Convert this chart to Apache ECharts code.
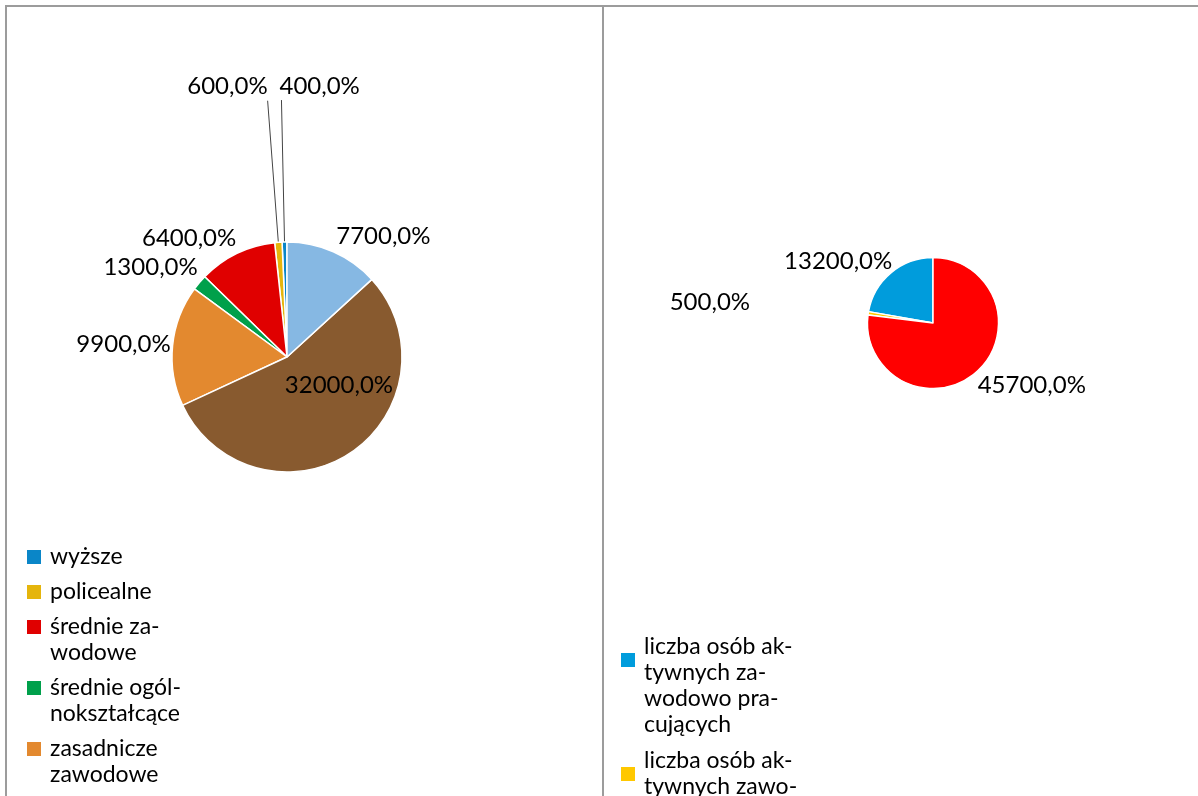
<!DOCTYPE html>
<html>
<head>
<meta charset="utf-8">
<script src="https://cdn.jsdelivr.net/npm/echarts@6/dist/echarts.min.js"></script>
<style>
  html, body { margin: 0; padding: 0; background: #fff; overflow: hidden; }
  #chart { position: absolute; left: 0; top: 0; width: 1198px; height: 1000px; }
  .frame { position: absolute; left: 5px; top: 5px; right: 0; bottom: 0; border-top: 2px solid #9c9c9c; border-left: 2px solid #9c9c9c; pointer-events: none; }
  .divider { position: absolute; left: 602px; top: 5px; bottom: 0; width: 2px; background: #9c9c9c; pointer-events: none; }
</style>
</head>
<body>
<div id="chart"></div>
<div class="frame"></div>
<div class="divider"></div>
<script>
// wykształcenie (lewy wykres)
var eduNames = ['wyższe', 'policealne', 'średnie zawodowe', 'średnie ogólnokształcące', 'zasadnicze zawodowe', 'gimnazjalne', 'podstawowe']
var eduValues = [4, 6, 64, 13, 99, 320, 77]
var eduLegendText = ['wyższe', 'policealne', 'średnie za-\nwodowe', 'średnie ogól-\nnokształcące', 'zasadnicze\nzawodowe', 'gimnazjalne', 'podstawowe']

// aktywność zawodowa (prawy wykres)
var workNames = ['liczba osób aktywnych zawodowo pracujących', 'liczba osób aktywnych zawodowo bezrobotnych', 'liczba osób biernych zawodowo']
var workValues = [132, 5, 457]
var workLegendText = ['liczba osób ak-\ntywnych za-\nwodowo pra-\ncujących', 'liczba osób ak-\ntywnych zawo-\ndowo bezro-\nbotnych', 'liczba osób bier-\nnych zawodo-\nwo']

var eduColors = ['#0A86C8', '#E5B50C', '#E00000', '#00A04B', '#E3892F', '#885A2F', '#86B8E3']
var workColors = ['#009CDC', '#FFC800', '#FF0000']

// label placement (length, length2, line shown)
var eduLabelLines = [[142, 0, true], [142, 0, true], [17, -12], [23, -21], [16, -19], [-81, -26], [17, -9]]
var workLabelLines = [[15, -16], [77, 37], [17, -15]]

var FONT = 'Lato'

function fmtPct(v) {
  return (v * 100).toFixed(1).replace('.', ',') + '%'
}

function buildData(names, values, colors, lines) {
  return names.map(function (n, i) {
    var l = lines[i]
    return {
      name: n,
      value: values[i],
      itemStyle: { color: colors[i] },
      labelLine: { show: !!l[2], length: l[0], length2: l[1] }
    }
  })
}

var eduRich = {
  t: { fontFamily: FONT, fontSize: 23, lineHeight: 26, color: '#000' },
  gap: { width: 9, lineHeight: 26 },
  ind: { width: 23, lineHeight: 26 }
}
eduColors.forEach(function (c, i) {
  eduRich['c' + i] = { width: 14, height: 14, lineHeight: 26, backgroundColor: c }
})

var chart = echarts.init(document.getElementById('chart'), null, { renderer: 'canvas' })
chart.setOption({
  animation: false,
  legend: [{
    orient: 'vertical',
    left: 22,
    top: 544,
    padding: 0,
    itemGap: 9,
    itemWidth: 0,
    itemHeight: 0,
    icon: 'rect',
    selectedMode: false,
    itemStyle: { borderWidth: 0 },
    data: eduNames,
    formatter: function (name) {
      var i = eduNames.indexOf(name)
      return eduLegendText[i].split('\n').map(function (line, k) {
        return (k === 0 ? '{c' + i + '|\u00a0}{gap|\u00a0}' : '{ind|\u00a0}') + '{t|' + line + '}'
      }).join('\n')
    },
    textStyle: { fontFamily: FONT, fontSize: 23, lineHeight: 26, color: '#000', rich: eduRich }
  }, {
    orient: 'vertical',
    left: 621,
    top: 634,
    padding: 0,
    itemGap: 10,
    itemWidth: 14,
    itemHeight: 66,
    icon: 'path://M0,0h14v14h-14zM0,66',
    selectedMode: false,
    itemStyle: { borderWidth: 0 },
    data: workNames,
    formatter: function (name) {
      return workLegendText[workNames.indexOf(name)]
    },
    textStyle: { fontFamily: FONT, fontSize: 23, lineHeight: 26, color: '#000', padding: [0, 0, 0, 4] }
  }],
  series: [{
    type: 'pie',
    center: [287, 357],
    radius: 115,
    startAngle: 90,
    clockwise: false,
    avoidLabelOverlap: false,
    itemStyle: { borderColor: '#fff', borderWidth: 1.5 },
    label: {
      position: 'outside',
      fontFamily: FONT,
      fontSize: 24,
      color: '#000',
      formatter: function (p) { return fmtPct(p.value) }
    },
    labelLine: { lineStyle: { color: '#444', width: 1 } },
    labelLayout: function (p) {
      if (p.dataIndex > 1 || !p.labelLinePoints) return {}
      var end = p.labelLinePoints[1]
      return {
        x: p.dataIndex === 0 ? end[0] - 2 : end[0],
        y: end[1] - 2,
        align: p.dataIndex === 0 ? 'left' : 'right',
        verticalAlign: 'bottom',
        labelLinePoints: p.labelLinePoints
      }
    },
    emphasis: { disabled: true },
    data: buildData(eduNames, eduValues, eduColors, eduLabelLines)
  }, {
    type: 'pie',
    center: [933, 323],
    radius: 65.5,
    startAngle: 90,
    clockwise: false,
    avoidLabelOverlap: false,
    itemStyle: { borderColor: '#fff', borderWidth: 1.5 },
    label: {
      position: 'outside',
      fontFamily: FONT,
      fontSize: 24,
      color: '#000',
      formatter: function (p) { return fmtPct(p.value) }
    },
    emphasis: { disabled: true },
    data: buildData(workNames, workValues, workColors, workLabelLines)
  }]
})
</script>
</body>
</html>
